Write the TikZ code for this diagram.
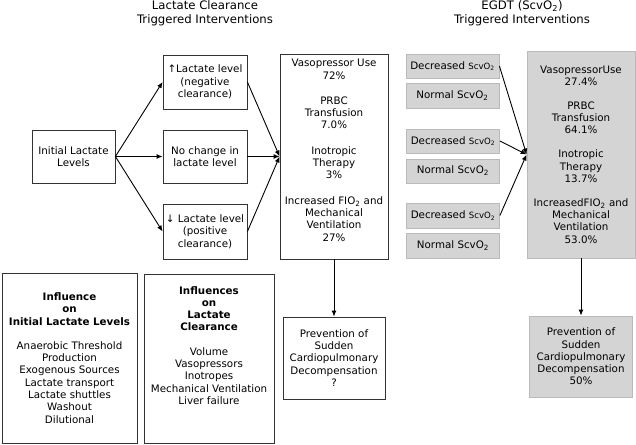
\documentclass[tikz,border=0pt]{standalone}
\usepackage{fontspec}
\setmainfont{DejaVu Sans}
\usepackage{xcolor}
\usetikzlibrary{arrows.meta}
\definecolor{boxgray}{RGB}{212,212,212}
\definecolor{boxedge}{RGB}{186,186,186}
\newcommand{\scvo}{ScvO\textsubscript{2}}

\begin{document}
\begin{tikzpicture}[x = 1pt, y = -1pt,
  wbox/.style = {draw = black!80, line width = .8pt, fill = white, align = center, inner sep = 1pt, font = \fontsize{10.3}{12.3}\selectfont},
  gbox/.style = {wbox, draw = boxedge, fill = boxgray},
  txt/.style = {align = center, inner sep = 0pt, font = \fontsize{10.3}{12.3}\selectfont},
  arr/.style = {-{Latex[length = 6pt, width = 5pt]}, line width = .9pt},
  ttl/.style = {align = center, font = \fontsize{11.7}{14}\selectfont}]
  \useasboundingbox (0, 0) rectangle (636, 444);

  % titles
  \node[ttl] (ttlleft) at (205, 13) {Lactate Clearance\\Triggered Interventions};
  \node[ttl] (ttlright) at (522, 13) {EGDT (\scvo)\\Triggered Interventions};

  % lactate clearance side
  \node[wbox, minimum width = 83, minimum height = 53] (init) at (73.5, 156.5) {Initial Lactate\\Levels};
  \node[wbox, minimum width = 84, minimum height = 54] (up) at (205, 82) {↑Lactate level\\(negative\\clearance)};
  \node[wbox, minimum width = 84, minimum height = 53] (same) at (205, 156.5) {No change in\\lactate level};
  \node[wbox, minimum width = 84, minimum height = 55] (down) at (205, 231.5) {↓ Lactate level\\(positive\\clearance)};
  \node[wbox, minimum width = 108, minimum height = 205] (interv) at (334, 156.5) {};
  \node[txt, anchor = north] (intervtxt) at (334, 59) {Vasopressor Use\\72\%\\[13pt]PRBC\\Transfusion\\7.0\%\\[13pt]Inotropic\\Therapy\\3\%\\[13pt]Increased FIO\textsubscript{2} and\\Mechanical\\Ventilation\\27\%};
  \node[wbox, minimum width = 102, minimum height = 82] (prev) at (334, 358) {Prevention of\\Sudden\\Cardiopulmonary\\Decompensation\\?};

  \draw[arr] (init.east) -- (up.west);
  \draw[arr] (init.east) -- (same.west);
  \draw[arr] (init.east) -- (down.west);
  \draw[arr] (up.east) -- (interv.west);
  \draw[arr] (same.east) -- (interv.west);
  \draw[arr] (down.east) -- (interv.west);
  \draw[arr] (interv.south) -- (prev.north);

  % influences
  \node[wbox, minimum width = 135, minimum height = 170] (inflinit) at (69.5, 358) {\textbf{Influence}\\\textbf{on}\\\textbf{Initial Lactate Levels}\\[12pt]Anaerobic Threshold\\Production\\Exogenous Sources\\Lactate transport\\Lactate shuttles\\Washout\\Dilutional};
  \node[wbox, minimum width = 130, minimum height = 169] (inflclear) at (209, 358.5) {\textbf{Influences}\\\textbf{on}\\\textbf{Lactate}\\\textbf{Clearance}\\[12pt]Volume\\Vasopressors\\Inotropes\\Mechanical Ventilation\\Liver failure\\[14pt]};

  % EGDT side
  \node[gbox, minimum width = 93, minimum height = 24] (decA) at (452.5, 66) {Decreased {\fontsize{8.6}{10}\selectfont\scvo}};
  \node[gbox, minimum width = 93, minimum height = 25] (normA) at (452.5, 95.5) {Normal \scvo};
  \node[gbox, minimum width = 93, minimum height = 24] (decB) at (453, 141) {Decreased {\fontsize{8.6}{10}\selectfont\scvo}};
  \node[gbox, minimum width = 93, minimum height = 24] (normB) at (453, 171) {Normal \scvo};
  \node[gbox, minimum width = 93, minimum height = 25] (decC) at (453, 215.5) {Decreased {\fontsize{8.6}{10}\selectfont\scvo}};
  \node[gbox, minimum width = 93, minimum height = 25] (normC) at (453, 245.5) {Normal \scvo};
  \node[gbox, minimum width = 108, minimum height = 207] (egdt) at (581, 154.5) {VasopressorUse\\27.4\%\\[11.5pt]PRBC\\Transfusion\\64.1\%\\[11.5pt]Inotropic\\Therapy\\13.7\%\\[11.5pt]IncreasedFIO\textsubscript{2} and\\Mechanical\\Ventilation\\53.0\%};
  \node[gbox, minimum width = 103, minimum height = 81] (preveg) at (581, 356.5) {Prevention of\\Sudden\\Cardiopulmonary\\Decompensation\\50\%};

  \draw[arr] (decA.east) -- (egdt.west);
  \draw[arr] (decB.east) -- (egdt.west);
  \draw[arr] (decC.east) -- (egdt.west);
  \draw[arr] (egdt.south) -- (preveg.north);
\end{tikzpicture}
\end{document}
